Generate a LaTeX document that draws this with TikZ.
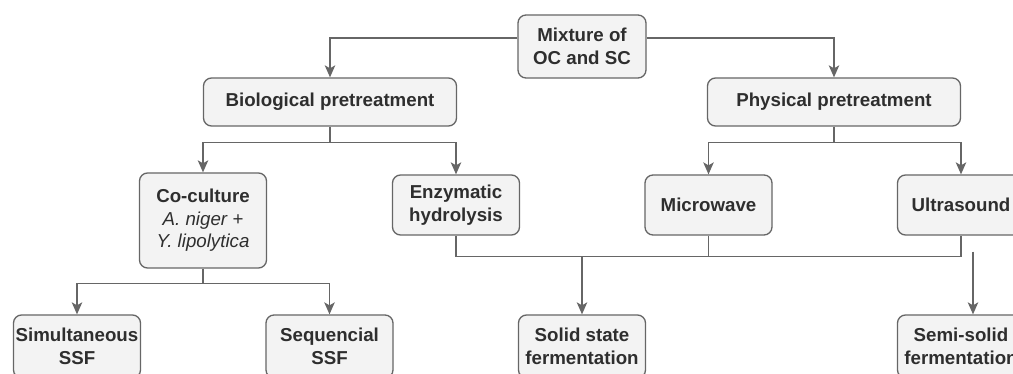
\documentclass[tikz,border=0pt]{standalone}
\usepackage{fontspec}
\setmainfont{Liberation Sans}
\usetikzlibrary{arrows.meta,positioning,calc}

\definecolor{linegray}{HTML}{666666}
\definecolor{boxgray}{HTML}{F3F3F3}
\definecolor{textgray}{HTML}{2E2E2E}

\tikzset{
  box/.style={draw=linegray, fill=boxgray, rounded corners=8pt, line width=1.3pt,
    minimum width=127pt, minimum height=60pt, inner sep=0pt, align=center, text=textgray,
    font=\fontsize{18.7}{22.5}\selectfont\bfseries},
  widebox/.style={box, minimum width=253pt, minimum height=48pt},
  tallbox/.style={box, minimum height=63pt},
  species/.style={font=\fontsize{18.7}{22.5}\selectfont\mdseries\itshape}
}

\begin{document}
\begin{tikzpicture}[x=1pt, y=-1pt, ->, >={Stealth[length=12pt,width=10.5pt,inset=3pt]},
    node distance=252.5pt, line width=1.3pt, draw=linegray]
        \clip (0,0) rectangle (1013,374);

        \node[tallbox, minimum width=128pt] (Mix) at (582,46.5) {Mixture of\\OC and SC};
        \node[widebox] (Bio) at (330,102) {Biological pretreatment};
        \node[widebox] (Phys) [right of=Bio, node distance=504pt] {Physical pretreatment};

        \node[box, minimum height=95pt] (CoCult) at (203,220.5)
            {Co-culture\\{\mdseries\itshape A. niger +}\\{\mdseries\itshape Y. lipolytica}};
        \node[box] (Enz) at (456,205) {Enzymatic\\hydrolysis};
        \node[box] (Micro) [right of=Enz] {Microwave};
        \node[box] (Ultra) [right of=Micro] {Ultrasound};

        \node[tallbox] (Simul) at (77,346.5) {Simultaneous\\SSF};
        \node[tallbox] (Seq) [right of=Simul] {Sequencial\\SSF};
        \node[tallbox] (Solid) [right of=Seq] {Solid state\\fermentation};
        \node[tallbox] (Semi) [right of=Solid, node distance=379pt] {Semi-solid\\fermentation};

        % junctions
        \coordinate (BioJ) at ($(Bio.south)+(0,16)$);
        \coordinate (PhysJ) at ($(Phys.south)+(0,16)$);
        \coordinate (CoJ) at ($(CoCult.south)+(0,15)$);
        \coordinate (MergeJ) at ($(Micro.south)+(0,21)$);

        \draw ([yshift=8.5pt]Mix.west) -| (Bio);
        \draw ([yshift=8.5pt]Mix.east) -| (Phys);

        \draw[-] (Bio.south) -- (BioJ);
        \draw (BioJ) -| (CoCult);
        \draw (BioJ) -| (Enz);

        \draw[-] (Phys.south) -- (PhysJ);
        \draw (PhysJ) -| (Micro);
        \draw (PhysJ) -| (Ultra);

        \draw[-] (CoCult.south) -- (CoJ);
        \draw (CoJ) -| (Simul);
        \draw (CoJ) -| (Seq);

        \draw[-] (Enz.south) |- (MergeJ) -| (Ultra.south);
        \draw[-] (Micro.south) -- (MergeJ);
        \draw (Solid |- MergeJ) -- (Solid);

        \draw[shorten <=16pt] ([xshift=12pt]Ultra.south) -- ([xshift=12pt]Semi.north);
\end{tikzpicture}
\end{document}
